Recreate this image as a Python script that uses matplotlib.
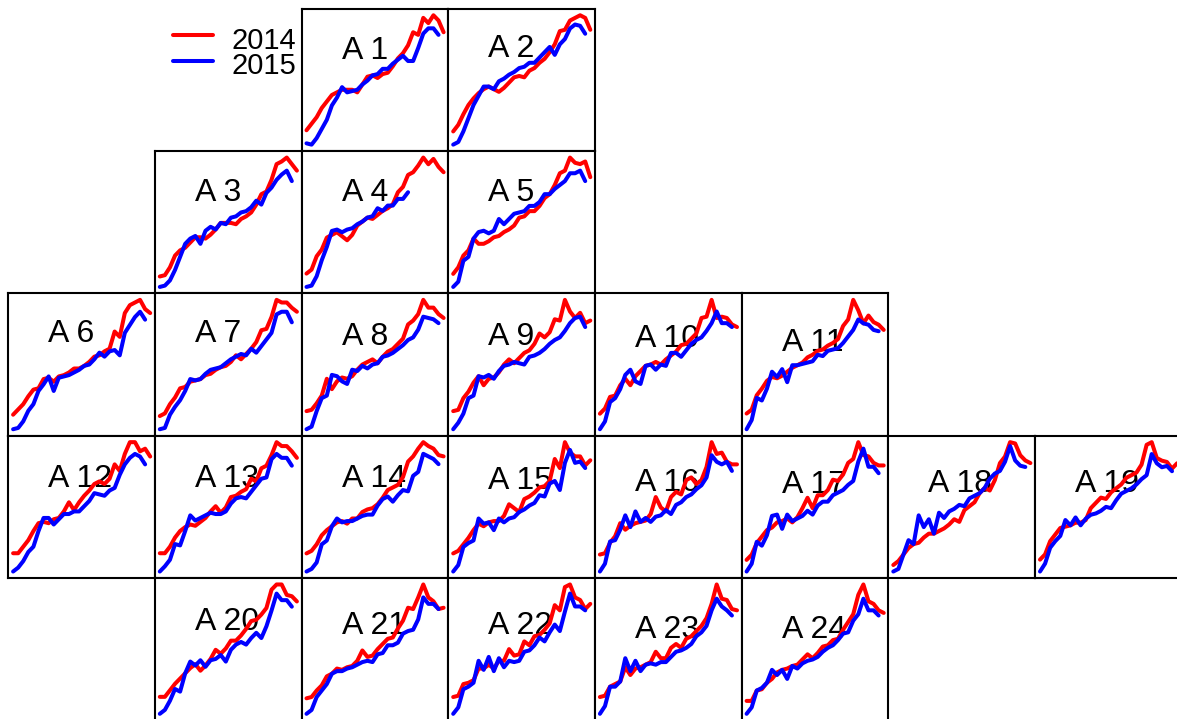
import matplotlib
matplotlib.use("Agg")
import matplotlib.pyplot as plt
import numpy as np

plt.rcParams['font.family'] = ['Liberation Sans', 'DejaVu Sans']

W, H = 1177, 719

# ---- data: index value per step, 2014 (red) and 2015 (blue) ----
a1_2014 = [11,16,21,28,33,38,40,42,42,42,40,46,52,53,51,54,55,60,66,70,76,86,84,97,93,99,95,86]
a1_2015 = [1,0,5,12,19,30,36,44,40,41,42,46,49,53,54,58,58,62,65,68,64,64,74,85,89,89,84]
a2_2014 = [10,15,23,30,35,39,42,44,42,40,43,47,51,52,51,56,58,62,65,70,76,86,87,94,96,98,96,87]
a2_2015 = [0,2,10,20,30,37,44,44,42,48,50,53,55,58,59,62,62,66,70,74,68,76,80,88,91,90,84]
a3_2014 = [8,9,15,24,28,30,34,38,38,37,40,44,49,49,49,48,52,54,57,63,71,73,82,94,96,99,94,89]
a3_2015 = [0,1,5,13,23,33,37,39,33,43,46,44,49,48,53,54,57,58,61,66,63,72,76,82,86,89,81]
a4_2014 = [10,13,23,28,37,39,41,38,35,39,46,49,52,51,54,57,59,62,71,75,84,86,91,97,92,96,90,86]
a4_2015 = [0,1,8,20,30,42,43,41,43,44,47,49,52,53,59,57,61,61,66,66,71]
a5_2014 = [10,15,24,28,37,33,33,35,38,39,42,44,47,53,54,58,58,62,68,71,78,87,89,99,95,94,96,84]
a5_2015 = [0,4,20,23,37,42,43,41,43,52,48,52,56,57,58,62,62,65,71,71,75,78,81,87,87,89,81]
a6_2014 = [12,16,20,26,31,32,39,40,37,41,42,44,47,47,49,52,56,57,60,62,75,71,89,95,97,99,92,89]
a6_2015 = [1,2,7,15,20,30,35,41,30,40,41,42,44,46,49,50,54,59,56,60,61,57,74,80,86,90,84]
a7_2014 = [10,12,19,24,31,32,36,37,38,41,42,45,47,48,51,56,53,57,61,66,75,76,85,98,96,96,92,89]
a7_2015 = [0,1,11,17,22,29,38,37,38,42,45,46,47,50,53,55,57,56,61,58,63,68,73,87,89,89,81]
a8_2014 = [14,15,20,26,39,31,37,40,39,41,46,50,52,54,51,56,60,62,66,70,81,84,89,100,94,94,89,86]
a8_2015 = [0,2,14,24,26,42,41,37,35,46,45,49,47,50,51,56,57,59,62,65,69,71,77,87,86,85,82]
a9_2014 = [14,15,24,29,36,41,34,39,40,44,50,54,51,55,59,61,66,74,71,75,85,84,100,91,86,90,82,84]
a9_2015 = [0,5,12,24,26,41,40,42,39,45,49,50,52,51,50,56,57,59,62,66,69,71,76,82,86,87,79]
a10_2014 = [12,16,25,26,34,39,34,41,45,49,50,52,50,54,57,60,65,66,70,74,86,87,100,86,87,86,81,79]
a10_2015 = [0,6,21,24,31,42,46,37,35,49,50,46,50,49,59,59,56,61,66,69,71,76,82,91,82,82,79]
a11_2014 = [12,15,26,31,37,40,39,41,44,47,49,51,55,57,60,61,64,66,69,79,84,99,91,81,87,82,80,76]
a11_2015 = [0,7,24,22,31,44,40,46,36,49,49,50,51,52,57,56,60,61,62,66,71,76,84,81,80,76,75]
a12_2014 = [14,14,19,24,31,37,38,37,40,41,46,53,47,53,58,62,67,69,67,71,82,77,90,99,99,92,94,88]
a12_2015 = [0,3,8,15,19,31,41,41,36,40,44,44,46,46,50,54,60,59,58,62,64,74,82,87,90,88,82]
a13_2014 = [14,14,19,26,31,34,36,35,38,41,46,50,45,49,57,58,61,63,71,69,79,81,89,99,96,96,92,87]
a13_2015 = [0,4,9,21,20,31,43,39,41,43,45,44,44,46,52,56,57,56,61,66,71,72,86,90,87,87,81]
a14_2014 = [14,16,21,28,32,35,38,39,37,41,41,46,48,49,52,57,63,65,67,73,85,89,95,100,97,95,90,89]
a14_2015 = [0,2,7,21,24,35,41,38,39,39,41,43,44,44,51,56,58,54,59,63,62,74,77,91,89,87,83]
a15_2014 = [14,16,21,26,32,37,35,38,39,39,43,52,49,46,56,58,61,65,66,70,87,80,100,92,89,89,82,86]
a15_2015 = [0,5,19,22,24,41,37,38,32,41,38,41,42,46,48,51,53,59,58,68,70,63,84,94,84,85,80]
a16_2014 = [13,14,22,27,37,32,35,37,38,39,44,57,49,46,57,61,59,70,72,67,70,80,99,90,91,84,82,82]
a16_2015 = [0,6,23,24,32,43,34,46,38,41,38,42,43,47,44,51,53,57,59,63,66,72,89,84,82,84,77]
a17_2014 = [9,13,22,27,32,34,38,39,41,38,42,49,57,49,59,59,63,71,70,75,84,87,100,90,89,84,82,82]
a17_2015 = [0,6,23,20,28,43,44,33,44,39,41,43,47,44,51,54,54,59,61,63,67,70,85,95,81,81,76]
a18_2014 = [6,9,14,19,22,23,27,30,30,32,34,37,41,39,48,51,54,61,65,63,71,84,89,100,99,90,86,84]
a18_2015 = [1,3,14,25,22,44,35,41,30,46,42,47,49,52,51,57,59,61,65,72,76,78,85,97,86,82,81]
a19_2014 = [9,13,23,28,33,34,35,37,37,39,48,52,56,55,60,63,66,71,73,75,81,96,98,86,84,83,78,82]
a19_2015 = [0,6,18,23,27,39,35,41,35,40,43,44,46,49,48,54,59,61,63,66,70,73,89,82,79,80,76]
a20_2014 = [13,13,18,23,27,31,35,38,33,37,42,49,46,50,56,56,60,65,71,72,76,81,95,99,99,91,90,86]
a20_2015 = [0,3,10,19,17,31,40,37,41,36,41,42,45,40,49,53,55,53,58,62,58,67,79,92,87,87,82]
a21_2014 = [12,13,18,22,29,31,35,34,36,37,41,49,44,45,50,54,58,59,66,72,82,81,90,100,90,87,81,82]
a21_2015 = [0,3,13,18,23,31,33,33,35,36,38,40,41,40,46,47,53,53,55,62,64,65,73,90,85,85,81]
a22_2014 = [13,14,23,24,26,35,35,38,35,41,41,50,45,46,56,53,60,61,65,70,84,80,98,100,90,88,81,85]
a22_2015 = [0,5,19,21,24,41,34,44,33,43,36,41,40,41,48,49,53,59,56,63,69,64,79,93,83,83,80]
a23_2014 = [13,14,21,23,25,36,30,35,36,38,40,48,43,43,51,54,51,58,60,64,68,74,85,100,89,88,81,80]
a23_2015 = [0,6,21,21,25,43,33,41,33,38,39,38,40,40,44,48,49,51,54,60,63,68,80,89,83,80,76]
a24_2014 = [10,10,18,19,24,27,32,34,35,37,38,42,46,43,47,52,53,57,58,65,71,77,92,100,87,85,80,78]
a24_2015 = [0,5,18,20,24,34,30,34,27,37,35,39,41,42,44,48,51,53,57,62,63,72,77,89,80,80,76]

labels = ["A %d" % i for i in range(1, 25)]
series_2014 = [a1_2014, a2_2014, a3_2014, a4_2014, a5_2014, a6_2014, a7_2014, a8_2014,
               a9_2014, a10_2014, a11_2014, a12_2014, a13_2014, a14_2014, a15_2014, a16_2014,
               a17_2014, a18_2014, a19_2014, a20_2014, a21_2014, a22_2014, a23_2014, a24_2014]
series_2015 = [a1_2015, a2_2015, a3_2015, a4_2015, a5_2015, a6_2015, a7_2015, a8_2015,
               a9_2015, a10_2015, a11_2015, a12_2015, a13_2015, a14_2015, a15_2015, a16_2015,
               a17_2015, a18_2015, a19_2015, a20_2015, a21_2015, a22_2015, a23_2015, a24_2015]

# grid placement (row, col) of each panel
grid_row = [0, 0, 1, 1, 1, 2, 2, 2, 2, 2, 2, 3, 3, 3, 3, 3, 3, 3, 3, 4, 4, 4, 4, 4]
grid_col = [2, 3, 1, 2, 3, 0, 1, 2, 3, 4, 5, 0, 1, 2, 3, 4, 5, 6, 7, 1, 2, 3, 4, 5]
# baseline of the panel title, in pixels below the panel top
title_drop = [50, 48, 50, 50, 50, 49, 49, 52, 52, 54, 58, 51, 51, 51, 53, 55, 57, 56, 56,
              52, 56, 56, 60, 60]

COL0, COLW = 8.3, 146.7
ROW0, ROWH = 8.8, 142.3
RED, BLUE = '#FF0000', '#0000FF'

fig = plt.figure(figsize=(W / 100, H / 100), dpi=100)

for i, lab in enumerate(labels):
    left = COL0 + grid_col[i] * COLW
    top = ROW0 + grid_row[i] * ROWH
    ax = fig.add_axes([left / W, 1 - (top + ROWH) / H, COLW / W, ROWH / H])
    r = np.asarray(series_2014[i], float)
    b = np.asarray(series_2015[i], float)
    ax.plot(np.arange(len(r)), r, color=RED, lw=2.9, solid_capstyle='round',
            solid_joinstyle='round', zorder=3)
    ax.plot(np.arange(len(b)), b, color=BLUE, lw=2.9, solid_capstyle='round',
            solid_joinstyle='round', zorder=4)
    ax.margins(x=0.035, y=0.05)
    ax.set_xticks([])
    ax.set_yticks([])
    for sp in ax.spines.values():
        sp.set_linewidth(1.5)
        sp.set_color('black')
    ax.text(40 / COLW, 1 - title_drop[i] / ROWH, lab, transform=ax.transAxes,
            ha='left', va='baseline', fontsize=23, color='black', zorder=1)

# legend
lg = fig.add_axes([0, 0, 1, 1])
lg.set_xlim(0, W)
lg.set_ylim(H, 0)
lg.axis('off')
lg.patch.set_alpha(0)
for yl, yt, col, txt in [(35, 49.3, RED, "2014"), (60.7, 74.3, BLUE, "2015")]:
    lg.plot([173, 212.5], [yl, yl], color=col, lw=2.9, solid_capstyle='round')
    lg.text(231.5, yt, txt, ha='left', va='baseline', fontsize=21, color='black')

fig.savefig("out.png", dpi=100)
